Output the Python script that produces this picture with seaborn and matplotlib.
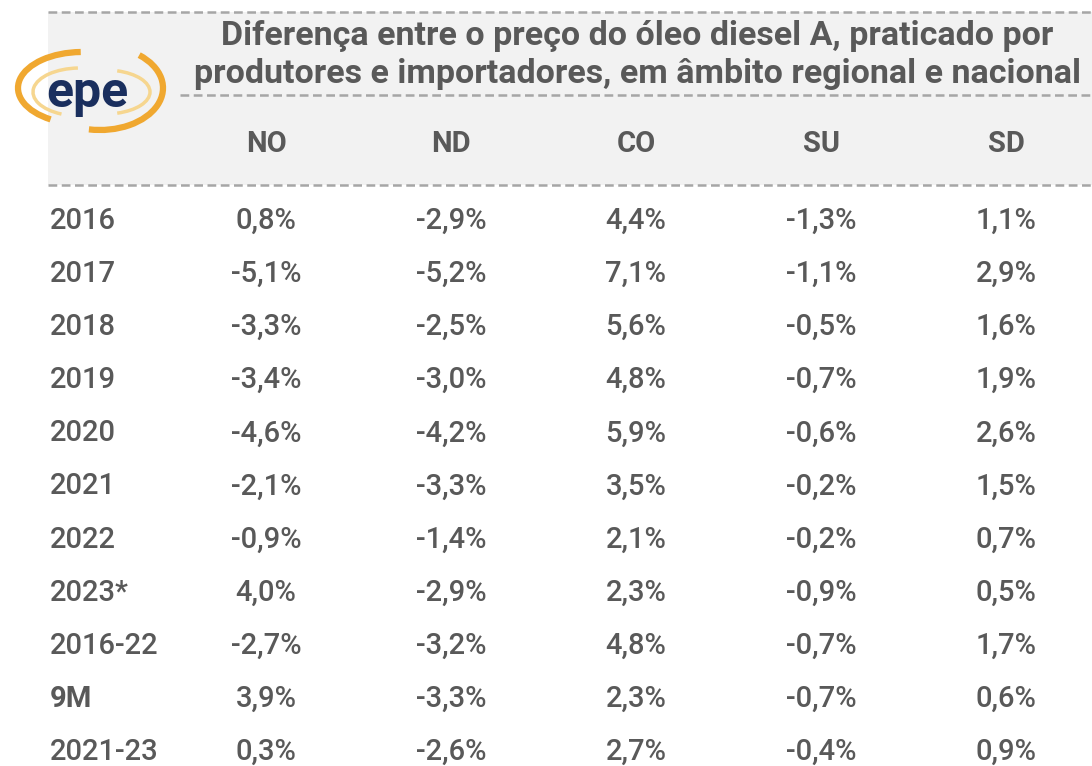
import numpy as np
import pandas as pd
import matplotlib
matplotlib.use("Agg")
import matplotlib.pyplot as plt
import seaborn as sns
from matplotlib.colors import ListedColormap
from matplotlib.patches import Rectangle, Arc
from matplotlib.lines import Line2D

# Data
title = "Diferença entre o preço do óleo diesel A, praticado por\nprodutores e importadores, em âmbito regional e nacional"
regions = ["NO", "ND", "CO", "SU", "SD"]
periods = ["2016", "2017", "2018", "2019", "2020", "2021", "2022",
           "2023*", "2016-22", "9M", "2021-23"]
NO = [0.8, -5.1, -3.3, -3.4, -4.6, -2.1, -0.9, 4.0, -2.7, 3.9, 0.3]
ND = [-2.9, -5.2, -2.5, -3.0, -4.2, -3.3, -1.4, -2.9, -3.2, -3.3, -2.6]
CO = [4.4, 7.1, 5.6, 4.8, 5.9, 3.5, 2.1, 2.3, 4.8, 2.3, 2.7]
SU = [-1.3, -1.1, -0.5, -0.7, -0.6, -0.2, -0.2, -0.9, -0.7, -0.7, -0.4]
SD = [1.1, 2.9, 1.6, 1.9, 2.6, 1.5, 0.7, 0.5, 1.7, 0.6, 0.9]

df = pd.DataFrame({"NO": NO, "ND": ND, "CO": CO, "SU": SU, "SD": SD}, index=periods)
labels = df.apply(lambda col: col.map(lambda v: f"{v:.1f}%".replace(".", ",")))

plt.rcParams["font.family"] = ["Roboto", "DejaVu Sans"]
txt = "#595959"
W, H = 1092, 766

fig = plt.figure(figsize=(W / 100, H / 100), dpi=100)
fig.patch.set_facecolor("white")

def fx(px):
    return px / W

def fy(py):
    return 1 - py / H

# header background + dashed rules
fig.patches.append(Rectangle((fx(48), fy(185)), fx(W) - fx(48), fy(12) - fy(185),
                             transform=fig.transFigure, facecolor="#f2f2f2",
                             edgecolor="none", zorder=-10))
for y, x0 in [(12, 48), (95, 180), (185, 48)]:
    fig.lines.append(Line2D([fx(x0), 1], [fy(y), fy(y)], transform=fig.transFigure,
                            color="#a6a6a6", lw=1.8, ls=(0, (3.5, 1.8)), zorder=-5))

fig.text(fx(637), fy(55), title, ha="center", va="center", fontsize=24.5,
         fontweight="bold", color=txt, linespacing=1.2)

# table body
ax = fig.add_axes([fx(173.5), fy(778.5), fx(925), 584.0 / H])
sns.heatmap(df, annot=labels.values, fmt="", cmap=ListedColormap(["white"]),
            cbar=False, ax=ax, linewidths=0,
            annot_kws={"fontsize": 21, "color": txt, "fontweight": "medium"})
ax.patch.set_alpha(0)
ax.set_xticks([])
ax.tick_params(axis="y", length=0, pad=89)
ax.set_yticklabels(periods, rotation=0, ha="left", fontsize=21, color=txt,
                   fontweight="medium")
for t in ax.get_yticklabels():
    if t.get_text() == "9M":
        t.set_fontweight("bold")
ax.set_ylabel("")
for i, r in enumerate(regions):
    ax.text(i + 0.5, -0.95, r, ha="center", va="center", fontsize=21,
            fontweight="bold", color=txt, clip_on=False)

# logo (pixel-like coords, y down)
lax = fig.add_axes([0, fy(150), fx(170), 110 / H])
lax.set_xlim(0, 170)
lax.set_ylim(150, 40)
lax.axis("off")
lax.add_patch(Arc((82, 88), 128, 72, theta1=135, theta2=268, color="#f0a830", lw=4.5))
lax.add_patch(Arc((100, 88), 126, 84, theta1=-40, theta2=105, color="#f0a830", lw=4.5))
lax.add_patch(Arc((80, 92), 94, 48, theta1=130, theta2=265, color="#f6d68f", lw=2.5))
lax.add_patch(Arc((105, 92), 90, 44, theta1=-60, theta2=60, color="#f6d68f", lw=2.5))
lax.text(87, 107, "epe", ha="center", va="baseline", fontsize=36,
         fontweight="bold", color="#1a2f5e")

fig.savefig("out.png", dpi=100)
